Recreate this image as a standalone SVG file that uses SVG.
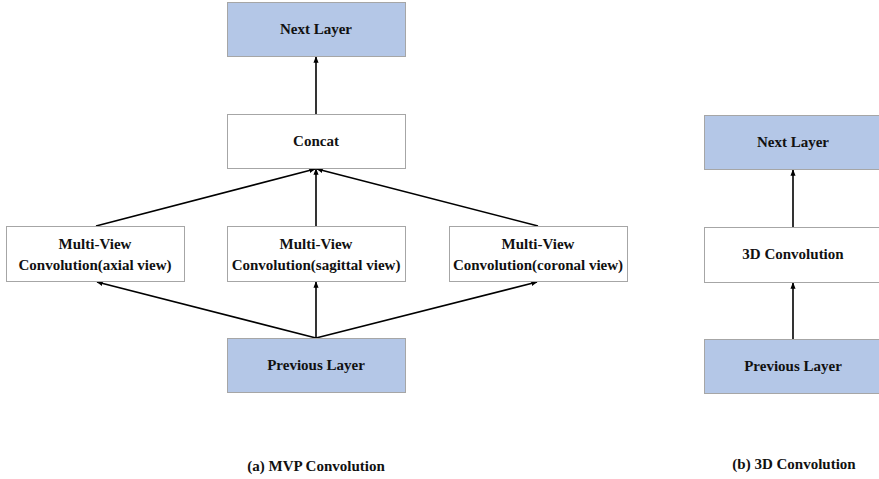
<svg xmlns="http://www.w3.org/2000/svg" width="879" height="479" viewBox="0 0 879 479">
<style>
.box{stroke:#a6a6a6;stroke-width:1}
.blue{fill:#b4c7e7}
.white{fill:#ffffff}
text{font-family:'Liberation Serif','Times New Roman',Times,serif;font-weight:700;font-size:15px;fill:#111;text-anchor:middle}
.cap{font-size:15px}
.conn{stroke:#000;stroke-width:1.6;fill:none;marker-end:url(#ah)}
</style>
<defs>
<marker id="ah" viewBox="0 0 10 10" refX="9" refY="5" markerWidth="4" markerHeight="4" orient="auto" markerUnits="strokeWidth">
<path d="M0,1 L10,5 L0,9 z" fill="#000"/>
</marker>
</defs>
<rect width="879" height="479" fill="#fff"/>
<g id="connectors">
<line class="conn" x1="316" y1="114" x2="316" y2="57"/>
<line class="conn" x1="96" y1="226" x2="315" y2="169"/>
<line class="conn" x1="316" y1="226" x2="316" y2="169"/>
<line class="conn" x1="538" y1="226" x2="317" y2="169"/>
<line class="conn" x1="316" y1="338" x2="97" y2="282"/>
<line class="conn" x1="316" y1="338" x2="316" y2="282"/>
<line class="conn" x1="316" y1="338" x2="537" y2="282"/>
<line class="conn" x1="793" y1="227" x2="793" y2="170"/>
<line class="conn" x1="793" y1="339" x2="793" y2="283"/>
</g>
<g id="next-a"><rect class="box blue" x="227.5" y="2.5" width="178" height="54"/><text x="316" y="34">Next Layer</text></g>
<g id="concat"><rect class="box white" x="227.5" y="114.5" width="178" height="54"/><text x="316" y="146">Concat</text></g>
<g id="axial"><rect class="box white" x="6.5" y="226.5" width="178" height="55"/><text x="95" y="249">Multi-View</text><text x="95" y="270">Convolution(axial view)</text></g>
<g id="sagittal"><rect class="box white" x="227.5" y="226.5" width="178" height="55"/><text x="316" y="249">Multi-View</text><text x="316" y="270">Convolution(sagittal view)</text></g>
<g id="coronal"><rect class="box white" x="449.5" y="226.5" width="178" height="55"/><text x="538" y="249">Multi-View</text><text x="538" y="270">Convolution(coronal view)</text></g>
<g id="prev-a"><rect class="box blue" x="227.5" y="338.5" width="178" height="54"/><text x="316" y="370">Previous Layer</text></g>
<g id="next-b"><rect class="box blue" x="704.5" y="115.5" width="178" height="54"/><text x="793" y="147">Next Layer</text></g>
<g id="conv3d"><rect class="box white" x="704.5" y="227.5" width="178" height="55"/><text x="793" y="259">3D Convolution</text></g>
<g id="prev-b"><rect class="box blue" x="704.5" y="339.5" width="178" height="54"/><text x="793" y="371">Previous Layer</text></g>
<g id="captions"><text class="cap" x="316" y="471">(a) MVP Convolution</text><text class="cap" x="794" y="469">(b) 3D Convolution</text></g>
</svg>
